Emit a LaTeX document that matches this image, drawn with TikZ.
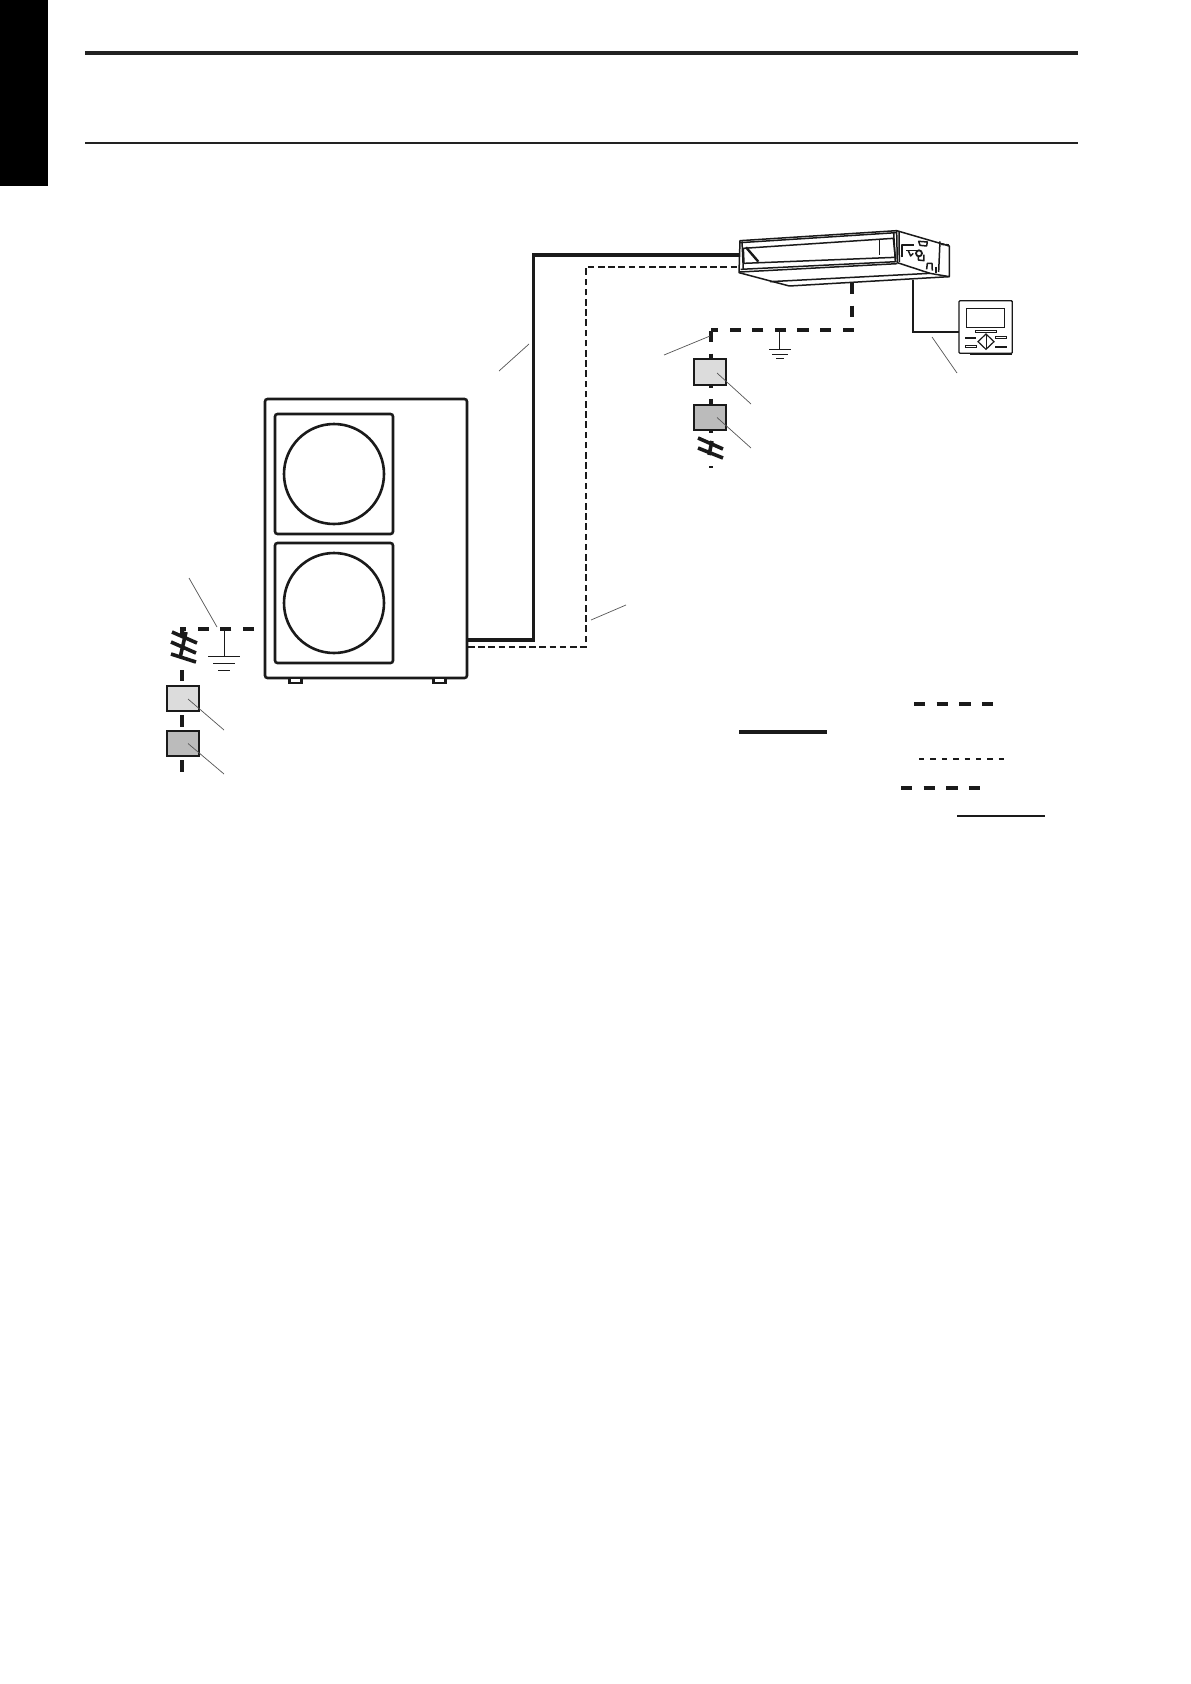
\documentclass[tikz,border=0pt]{standalone}
\usepackage{xcolor}
\definecolor{rulegray}{HTML}{222222}
\definecolor{wireblack}{HTML}{1A1A1A}
\definecolor{leadgray}{HTML}{555555}
\definecolor{switchlight}{HTML}{DCDCDC}
\definecolor{switchdark}{HTML}{BBBBBB}
\begin{document}
\begin{tikzpicture}[
    x=1pt, y=-1pt,
    powerline/.style={draw=wireblack, line width=3.8pt, dash pattern=on 11.3pt off 11.3pt},
    pipeline/.style={draw=wireblack, line width=3.6pt, line join=miter},
    linkline/.style={draw=wireblack, line width=2pt, dash pattern=on 6.5pt off 3.7pt},
    leaderline/.style={draw=leadgray, line width=0.7pt},
    hashline/.style={draw=wireblack, line width=3.6pt},
    groundline/.style={draw=wireblack, line width=1pt},
    unitline/.style={draw=wireblack, line width=1.5pt, line join=round},
    switchbox/.style={draw=wireblack, line width=2.4pt, inner sep=0pt, minimum width=32pt, minimum height=25.5pt},
    panelbox/.style={draw=wireblack, line width=2.6pt, rounded corners=2.5pt, inner sep=0pt, minimum width=118pt, minimum height=120pt},
    fancircle/.style={draw=wireblack, line width=2.6pt, circle, inner sep=0pt, minimum size=100pt},
    footbox/.style={draw=wireblack, line width=2.2pt, fill=white, inner sep=0pt, minimum width=12pt, minimum height=5pt}
]
\useasboundingbox (0,0) rectangle (1191,1684);
\fill[white] (0,0) rectangle (1191,1684);

% page furniture
\fill[black] (0,0) rectangle (48,186);
\draw[rulegray, line width=4pt] (85,53) -- (1078,53);
\draw[rulegray, line width=2pt] (85,143) -- (1078,143);

% wire points
\coordinate (outpipe) at (467,640);
\coordinate (pipelow) at (533.5,640);
\coordinate (pipetop) at (533.5,255);
\coordinate (indpipe) at (741,255);
\coordinate (outlink) at (468,647);
\coordinate (linklow) at (585.5,647);
\coordinate (linktop) at (585.5,267);
\coordinate (indlink) at (741,267);
\coordinate (outfeed) at (254,629);
\coordinate (outturn) at (182,629);
\coordinate (outhashtop) at (182,637);
\coordinate (outhashend) at (182,670);
\coordinate (outfeedend) at (182,772);
\coordinate (indfeed) at (852,283);
\coordinate (indturn) at (852,330);
\coordinate (indcorner) at (711,330);
\coordinate (indhashtop) at (711,331);
\coordinate (indhashend) at (711,433);
\coordinate (indtaila) at (711,466.2);
\coordinate (indtailb) at (711,467.8);
\coordinate (remtop) at (913,280);
\coordinate (remturn) at (913,332);
\coordinate (remend) at (959,332);

% wires go under the boxes
\draw[pipeline] (outpipe) -- (pipelow) -- (pipetop) -- (indpipe);
\draw[linkline] (outlink) -- (linklow) -- (linktop) -- (indlink);
\draw[powerline] (outfeed) -- (outturn) -- (outhashtop);
\draw[powerline] (outhashend) -- (outfeedend);
\draw[powerline] (indfeed) -- (indturn) -- (indcorner);
\draw[powerline] (indhashtop) -- (indhashend);
\draw[draw=wireblack, line width=3.6pt] (indtaila) -- (indtailb);
\draw[draw=wireblack, line width=2pt] (remtop) -- (remturn) -- (remend);

% outdoor unit
\node[draw=wireblack, line width=2.6pt, rounded corners=2.5pt, inner sep=0pt, minimum width=202pt, minimum height=279pt] (outunit) at (366,538.5) {};
\node[panelbox] (toppanel) at (334,474) {};
\node[panelbox] (lowpanel) at (334,603) {};
\node[fancircle] (topfan) at (334,474) {};
\node[fancircle] (lowfan) at (334,603) {};
\node[footbox] (foota) at (295.5,680.5) {};
\node[footbox] (footb) at (439.5,680.5) {};

% outdoor switches and earth
\node[switchbox, fill=switchlight] (outlight) at (183,698.5) {};
\node[switchbox, fill=switchdark] (outdark) at (183,743.5) {};
\draw[hashline] (172,632) -- (197,643);
\draw[hashline] (171,642) -- (196,653);
\draw[hashline] (171,654) -- (196,662);
\draw[hashline] (186,632) -- (180,658);
\coordinate (outearth) at (224,629);
\coordinate (outearthb) at (224,656);
\draw[groundline] (outearth) -- (outearthb);
\draw[groundline] (208,656) -- (240,656);
\draw[groundline] (213,663) -- (235,663);
\draw[groundline] (218,670) -- (230,670);

% indoor switches and earth
\node[switchbox, fill=switchlight] (indlight) at (710,372) {};
\node[switchbox, fill=switchdark] (inddark) at (710,417.5) {};
\draw[hashline] (698,438) -- (723,449);
\draw[hashline] (698,448) -- (723,458);
\draw[hashline] (712,441) -- (709,455);
\coordinate (indearth) at (779,330);
\coordinate (indearthb) at (779,349);
\draw[groundline] (indearth) -- (indearthb);
\draw[groundline] (769,349) -- (791,349);
\draw[groundline] (772,354) -- (788,354);
\draw[groundline] (776,358) -- (784,358);

% indoor unit, traced at 3x
\begin{scope}[shift={(720pt,-220pt)}, x=0.3333pt, y=-0.3333pt]
\filldraw[unitline, fill=white] (60,62) -- (530,32) -- (688,78) -- (688,170) -- (208,198) -- (57,158) -- cycle;
\draw[unitline] (60,68) -- (528,38);
\draw[unitline] (70,85) -- (520,55) -- (526,112) -- (72,130) -- cycle;
\draw[unitline] (62,148) -- (530,125);
\draw[unitline] (60,156) -- (532,131);
\draw[unitline] (66,64) -- (70,150);
\draw[unitline] (521,38) -- (526,125);
\draw[unitline] (530,32) -- (532,128) -- (630,160) -- (688,170);
\draw[unitline] (537,33) -- (538,126);
\draw[unitline] (660,64) -- (656,156);
\draw[unitline] (150,185) -- (630,160);
\draw[draw=wireblack, line width=2.4pt] (78,82) -- (115,125);
\draw[unitline] (478,57) -- (478,106);
% valves
\draw[unitline] (546,112) -- (546,75) -- (582,75);
\draw[unitline] (558,92) -- (590,92);
\draw[unitline] (596,64) -- (622,66) -- (620,78) -- (600,76) -- cycle;
\draw[draw=wireblack, line width=1.8pt] (597,100) circle (9);
\draw[unitline] (595,108) -- (595,120) -- (612,122) -- (612,104);
\draw[unitline] (565,92) -- (572,108) -- (580,100);
\draw[unitline] (620,148) -- (622,130) -- (636,130) -- (637,152);
\draw[unitline] (648,140) -- (648,158);
\draw[draw=wireblack, line width=2pt, dash pattern=on 3pt off 1.5pt] (664,72) -- (688,76);
\end{scope}

% wall remote, traced at 3x
\begin{scope}[shift={(950pt,-295pt)}, x=0.3333pt, y=-0.3333pt]
\filldraw[draw=wireblack, line width=1.3pt, fill=white, rounded corners=1pt] (27,17) rectangle (187,175);
\draw[draw=wireblack, line width=1.1pt] (49,40) rectangle (163,98);
\draw[draw=wireblack, line width=0.9pt] (75,106) rectangle (138,113);
\fill[wireblack] (45,125) rectangle (78,131);
\draw[draw=wireblack, line width=0.8pt] (45,152) rectangle (78,158);
\draw[draw=wireblack, line width=0.8pt] (135,125) rectangle (170,131);
\fill[wireblack] (135,152) rectangle (170,158);
\draw[draw=wireblack, line width=1.2pt] (108,117) -- (132,140) -- (108,163) -- (84,140) -- cycle;
\draw[draw=wireblack, line width=0.8pt] (108,117) -- (108,163);
\draw[draw=wireblack, line width=1.6pt] (60,178) -- (187,178);
\end{scope}

% leaders
\coordinate (leadpipea) at (499,371);
\coordinate (leadpipeb) at (529,344);
\coordinate (leadlinka) at (591,620);
\coordinate (leadlinkb) at (626,605);
\coordinate (leadinda) at (664,355);
\coordinate (leadindb) at (710,336);
\coordinate (leadrema) at (932,337);
\coordinate (leadremb) at (957,373);
\coordinate (leadouta) at (189,578);
\coordinate (leadoutb) at (217,627);
\draw[leaderline] (leadpipea) -- (leadpipeb);
\draw[leaderline] (leadlinka) -- (leadlinkb);
\draw[leaderline] (leadinda) -- (leadindb);
\draw[leaderline] (leadrema) -- (leadremb);
\draw[leaderline] (leadouta) -- (leadoutb);
\draw[leaderline] (indlight.center) ++(7,1) -- (751,404);
\draw[leaderline] (inddark.center) ++(7,0) -- (751,448);
\draw[leaderline] (outlight.center) ++(5,0.5) -- (224,730);
\draw[leaderline] (outdark.center) ++(5,0) -- (224,774);

% legend
\coordinate (legpowa) at (914,704);
\coordinate (legpowb) at (994,704);
\coordinate (legpipea) at (739,732);
\coordinate (legpipeb) at (827,732);
\coordinate (leglinka) at (919,759);
\coordinate (leglinkb) at (1004,759);
\coordinate (legfeeda) at (901,788);
\coordinate (legfeedb) at (981,788);
\coordinate (legrema) at (957,816);
\coordinate (legremb) at (1045,816);
\draw[powerline, line width=4pt] (legpowa) -- (legpowb);
\draw[pipeline, line width=4pt] (legpipea) -- (legpipeb);
\draw[draw=wireblack, line width=2pt, dash pattern=on 5.4pt off 6pt] (leglinka) -- (leglinkb);
\draw[powerline, line width=4pt] (legfeeda) -- (legfeedb);
\draw[draw=wireblack, line width=2pt] (legrema) -- (legremb);
\end{tikzpicture}
\end{document}
